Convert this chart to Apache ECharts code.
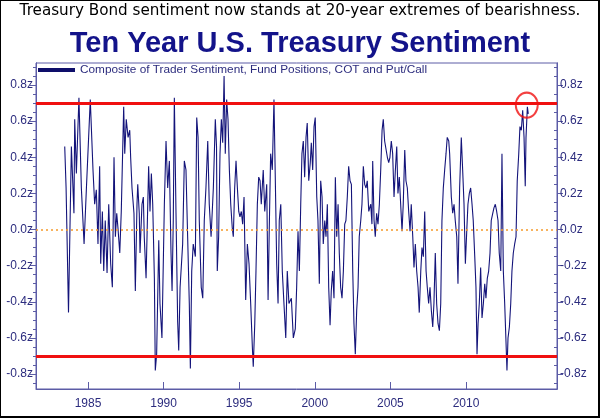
<!DOCTYPE html>
<html>
<head>
<meta charset="utf-8">
<script src="https://cdn.jsdelivr.net/npm/echarts@6/dist/echarts.min.js"></script>
<style>
html,body{margin:0;padding:0;background:#fff;}
#chart{width:600px;height:418px;}
</style>
</head>
<body>
<div id="chart"></div>
<script>
// ---- data (decimal year, sentiment z-score) ----
var sent1983_1988 = [[1983.46,0.46],[1983.55,0.23],[1983.71,-0.46],[1983.90,0.46],[1984.07,0.09],[1984.12,0.61],[1984.23,0.31],[1984.40,0.73],[1984.56,0.23],[1984.74,-0.08],[1984.89,0.22],[1985.15,0.72],[1985.33,0.33],[1985.44,0.14],[1985.55,0.22],[1985.66,-0.08],[1985.77,0.35],[1985.84,-0.19],[1985.95,0.10],[1986.04,-0.23],[1986.14,0.05],[1986.26,-0.24],[1986.37,0.14],[1986.50,-0.19],[1986.61,-0.32],[1986.72,0.40],[1986.81,-0.04],[1986.90,0.09],[1986.98,0.01],[1987.10,-0.13],[1987.20,0.10],[1987.36,0.68],[1987.43,0.42],[1987.53,0.61],[1987.65,0.51],[1987.76,0.55],[1987.82,0.40],[1987.91,0.23],[1988.04,0.09],[1988.13,-0.34],[1988.24,0.14]];
var sent1988_1993 = [[1988.29,0.25],[1988.39,0.09],[1988.44,-0.13],[1988.57,0.14],[1988.66,0.18],[1988.72,-0.04],[1988.84,-0.27],[1989.01,0.35],[1989.10,0.10],[1989.19,0.31],[1989.28,0.14],[1989.39,-0.27],[1989.45,-0.78],[1989.54,-0.69],[1989.68,-0.06],[1989.76,-0.41],[1989.89,-0.60],[1990.05,0.14],[1990.16,0.49],[1990.27,0.23],[1990.38,0.38],[1990.49,-0.13],[1990.56,-0.34],[1990.64,0.05],[1990.71,0.73],[1990.82,0.09],[1990.93,-0.51],[1991.00,-0.67],[1991.09,-0.32],[1991.26,-0.08],[1991.37,0.38],[1991.48,0.33],[1991.59,-0.04],[1991.70,-0.41],[1991.77,-0.77],[1991.86,-0.23],[1991.96,-0.08],[1992.10,-0.15],[1992.19,0.62],[1992.28,0.51],[1992.36,0.05],[1992.49,-0.32],[1992.59,-0.38],[1992.69,0.05],[1992.80,0.23],[1992.92,0.49],[1993.02,0.14],[1993.14,-0.04],[1993.29,0.23],[1993.42,0.61]];
var sent1993_1998 = [[1993.50,0.46],[1993.55,-0.23],[1993.64,-0.04],[1993.73,0.42],[1993.82,0.61],[1993.91,0.48],[1994.00,0.85],[1994.08,0.42],[1994.17,0.72],[1994.26,0.61],[1994.35,0.33],[1994.44,0.14],[1994.54,0.01],[1994.61,-0.04],[1994.70,0.23],[1994.79,0.38],[1994.88,0.23],[1994.97,0.10],[1995.05,0.07],[1995.14,0.10],[1995.23,0.03],[1995.32,0.18],[1995.43,-0.39],[1995.54,-0.08],[1995.65,-0.19],[1995.76,-0.41],[1995.87,-0.65],[1995.93,-0.76],[1996.03,-0.52],[1996.11,-0.23],[1996.20,0.14],[1996.29,0.29],[1996.38,0.27],[1996.46,0.14],[1996.59,0.33],[1996.69,0.10],[1996.82,0.25],[1996.91,-0.39],[1996.99,0.01],[1997.08,0.42],[1997.19,0.33],[1997.30,0.72],[1997.39,0.27],[1997.48,-0.19],[1997.57,-0.41],[1997.65,0.05],[1997.75,0.14],[1997.85,-0.23],[1997.96,-0.41],[1998.08,-0.60],[1998.18,-0.23],[1998.29,-0.41],[1998.45,-0.38],[1998.58,-0.60]];
var sent1998_2003 = [[1998.71,-0.55],[1998.80,-0.32],[1998.89,-0.01],[1998.98,-0.23],[1999.07,0.14],[1999.15,0.42],[1999.24,0.49],[1999.33,0.29],[1999.42,0.51],[1999.50,0.59],[1999.60,0.27],[1999.70,0.37],[1999.77,0.48],[1999.86,0.33],[1999.95,0.57],[2000.03,0.62],[2000.13,0.18],[2000.21,0.05],[2000.30,-0.30],[2000.39,0.27],[2000.48,0.18],[2000.56,-0.08],[2000.66,0.05],[2000.74,-0.04],[2000.83,0.14],[2000.92,-0.32],[2001.01,-0.53],[2001.09,-0.34],[2001.18,-0.23],[2001.27,-0.38],[2001.36,0.29],[2001.45,-0.04],[2001.54,0.14],[2001.62,-0.13],[2001.71,-0.32],[2001.80,-0.38],[2001.89,-0.23],[2001.98,0.03],[2002.06,0.05],[2002.15,0.18],[2002.24,0.35],[2002.33,0.27],[2002.42,0.25],[2002.51,-0.23],[2002.59,-0.52],[2002.68,-0.69],[2002.77,-0.45],[2002.86,-0.32],[2002.94,-0.04],[2003.04,0.05],[2003.12,0.14],[2003.21,0.35],[2003.30,0.25],[2003.39,0.23],[2003.47,0.27],[2003.57,0.10],[2003.70,0.14]];
var sent2003_2008 = [[2003.78,0.03],[2003.83,0.38],[2003.92,0.05],[2004.00,-0.04],[2004.09,0.09],[2004.18,0.03],[2004.27,0.14],[2004.36,0.33],[2004.45,0.55],[2004.53,0.61],[2004.62,0.49],[2004.71,0.48],[2004.80,0.40],[2004.89,0.37],[2004.97,0.40],[2005.06,0.49],[2005.15,0.42],[2005.24,0.18],[2005.33,0.33],[2005.42,0.46],[2005.50,0.20],[2005.59,0.29],[2005.68,0.14],[2005.77,-0.01],[2005.85,0.14],[2005.95,0.44],[2006.03,0.27],[2006.12,0.23],[2006.21,0.10],[2006.30,-0.01],[2006.38,0.14],[2006.48,-0.04],[2006.56,-0.21],[2006.65,-0.08],[2006.74,-0.23],[2006.83,-0.32],[2006.91,-0.46],[2007.01,-0.23],[2007.09,-0.10],[2007.18,-0.15],[2007.27,0.10],[2007.36,-0.23],[2007.44,-0.32],[2007.53,-0.41],[2007.62,-0.32],[2007.71,-0.45],[2007.80,-0.54],[2007.88,-0.41],[2007.97,-0.13],[2008.06,-0.41],[2008.15,-0.52],[2008.24,-0.56],[2008.33,-0.41],[2008.41,0.05],[2008.50,0.23],[2008.59,0.33],[2008.68,0.42],[2008.76,0.51],[2008.86,0.49]];
var sent2008_2014 = [[2008.92,0.42],[2009.03,0.18],[2009.12,0.09],[2009.21,0.14],[2009.29,0.05],[2009.39,-0.04],[2009.47,-0.30],[2009.58,0.23],[2009.69,0.51],[2009.78,0.33],[2009.87,0.14],[2009.96,-0.19],[2010.05,-0.01],[2010.13,0.14],[2010.22,0.20],[2010.31,0.23],[2010.40,0.14],[2010.48,0.05],[2010.58,-0.15],[2010.66,-0.32],[2010.73,-0.69],[2010.80,-0.52],[2010.88,-0.41],[2010.97,-0.21],[2011.06,-0.49],[2011.15,-0.41],[2011.24,-0.30],[2011.32,-0.38],[2011.41,-0.27],[2011.50,-0.23],[2011.59,-0.13],[2011.67,0.05],[2011.77,0.09],[2011.85,0.12],[2011.94,0.14],[2012.03,0.10],[2012.12,0.05],[2012.20,-0.13],[2012.30,-0.23],[2012.38,0.42],[2012.47,-0.23],[2012.56,-0.41],[2012.65,-0.63],[2012.71,-0.78],[2012.78,-0.60],[2012.87,-0.54],[2012.96,-0.41],[2013.04,-0.23],[2013.13,-0.13],[2013.22,-0.08],[2013.31,-0.04],[2013.39,0.27],[2013.49,0.42],[2013.57,0.57],[2013.66,0.55],[2013.75,0.66],[2013.84,0.51],[2013.92,0.24],[2013.97,0.51],[2014.06,0.68],[2014.12,0.64]];

var extremeLevels = [0.7, -0.7];
var zeroLevel = 0;
var highlightPoint = [[2014.02, 0.689]];

var yMajorTicks = [-0.8, -0.6, -0.4, -0.2, 0, 0.2, 0.4, 0.6, 0.8];
var yMinorTicks = [-0.85,-0.75,-0.7,-0.65,-0.55,-0.5,-0.45,-0.35,-0.3,-0.25,-0.15,-0.1,-0.05,0.05,0.1,0.15,0.25,0.3,0.35,0.45,0.5,0.55,0.65,0.7,0.75,0.85,0.9];
var xTickYears = [1985, 1990, 1995, 2000, 2005, 2010];

var seriesName = 'Composite of Trader Sentiment, Fund Positions, COT and Put/Call';
var subtitleText = 'Treasury Bond sentiment now stands at 20-year extremes of bearishness.';
var titleText = 'Ten Year U.S. Treasury Sentiment';

var sentiment = [].concat(sent1983_1988, sent1988_1993, sent1993_1998, sent1998_2003, sent2003_2008, sent2008_2014);

// ---- chart ----
var Y_MIN = -0.883, Y_MAX = 0.922, X_MIN = 1981.56, X_MAX = 2016.02;
var axisColor = '#5c5ca6';
var labelColor = '#2c2c7e';
var FONT = 'Liberation Sans, Arial, sans-serif';

function yAxisDef(pos, ticks, len, inside, showLabel) {
  return {
    type: 'value', position: pos, min: Y_MIN, max: Y_MAX,
    axisLine: {show: true, lineStyle: {color: axisColor, width: 1}},
    axisTick: {show: true, customValues: ticks, length: len, inside: inside, lineStyle: {color: axisColor}},
    axisLabel: showLabel ? {show: true, customValues: ticks, margin: 3, color: labelColor, fontFamily: FONT, fontSize: 12,
      formatter: function (v) { return v.toFixed(1) + 'z'; }} : {show: false},
    splitLine: {show: false}
  };
}

var chart = echarts.init(document.getElementById('chart'), null, {renderer: 'canvas'});
chart.setOption({
  animation: false,
  backgroundColor: '#ffffff',
  title: [
    {text: subtitleText, left: 'center', top: 4, padding: 0,
     textStyle: {fontFamily: 'DejaVu Sans, Verdana, sans-serif', fontSize: 15.2, fontWeight: 'normal', color: '#000000'}},
    {text: titleText, left: 'center', top: 29, padding: 0,
     textStyle: {fontFamily: FONT, fontSize: 29, fontWeight: 'bold', color: '#13138a'}}
  ],
  legend: {
    data: [seriesName], left: 38, top: 64, padding: 0,
    icon: 'rect', itemWidth: 37, itemHeight: 4,
    itemStyle: {color: '#0e0e6a'},
    textStyle: {fontFamily: FONT, fontSize: 11.8, color: labelColor},
    selectedMode: false
  },
  grid: {left: 36, right: 43, top: 63, bottom: 29, show: true, borderColor: axisColor, borderWidth: 1, backgroundColor: 'transparent'},
  xAxis: {
    type: 'value', min: X_MIN, max: X_MAX,
    axisLine: {show: true, onZero: false, lineStyle: {color: axisColor}},
    axisTick: {show: true, customValues: xTickYears, inside: true, length: 7, lineStyle: {color: axisColor}},
    axisLabel: {show: true, customValues: xTickYears, margin: 9, color: labelColor, fontFamily: FONT, fontSize: 12,
      formatter: function (v) { return String(Math.round(v)); }},
    splitLine: {show: false}
  },
  yAxis: [
    yAxisDef('left', yMajorTicks, 6, false, true),
    yAxisDef('left', yMinorTicks, 3, false, false),
    yAxisDef('right', yMajorTicks, 6, false, true),
    yAxisDef('right', yMinorTicks, 3, true, false)
  ],
  series: [
    {
      name: 'zero', type: 'line', data: [], yAxisIndex: 0, silent: true, z: 1,
      markLine: {
        silent: true, symbol: ['none', 'none'], label: {show: false}, animation: false,
        lineStyle: {color: '#f59a2a', width: 1.5, type: [2, 3], opacity: 1},
        data: [{yAxis: zeroLevel}]
      }
    },
    {
      name: seriesName, type: 'line', data: sentiment, yAxisIndex: 0,
      showSymbol: false, symbol: 'none', sampling: null,
      lineStyle: {color: '#14147a', width: 1.1},
      itemStyle: {color: '#0e0e6a'},
      z: 3,
      markLine: {
        silent: true, symbol: ['none', 'none'], label: {show: false},
        lineStyle: {color: '#f01010', width: 3, type: 'solid', opacity: 1},
        data: [{yAxis: extremeLevels[0]}, {yAxis: extremeLevels[1]}]
      }
    },
    {
      name: 'highlight', type: 'scatter', data: highlightPoint, yAxisIndex: 0,
      symbol: 'circle', symbolSize: [22, 25], silent: true, z: 5,
      itemStyle: {color: 'rgba(0,0,0,0)', borderColor: '#f01010', borderWidth: 2}
    }
  ],
  graphic: [
    {type: 'rect', shape: {x: 0, y: 0, width: 599, height: 417}, style: {fill: null, stroke: '#000', lineWidth: 2}, z: 100, silent: true}
  ]
});
</script>
</body>
</html>
